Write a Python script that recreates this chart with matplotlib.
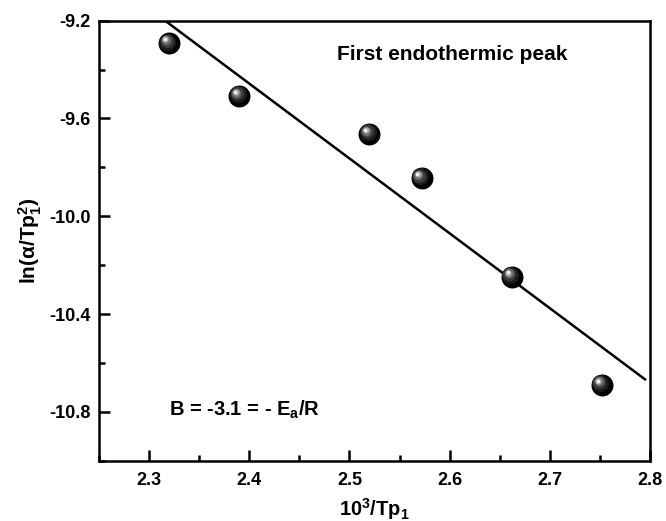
import numpy as np
import matplotlib
matplotlib.use("Agg")
import matplotlib.pyplot as plt
from matplotlib.ticker import MultipleLocator, FormatStrFormatter
from matplotlib.transforms import offset_copy

plt.rcParams['font.family'] = ['Liberation Sans', 'DejaVu Sans']
plt.rcParams['mathtext.fontset'] = 'custom'
plt.rcParams['mathtext.rm'] = 'Liberation Sans:bold'
plt.rcParams['mathtext.it'] = 'Liberation Sans:bold'
plt.rcParams['mathtext.bf'] = 'Liberation Sans:bold'

# data
inv_tp = [2.32, 2.39, 2.52, 2.572, 2.662, 2.752]
ln_ratio = [-9.292, -9.508, -9.663, -9.844, -10.247, -10.689]
fit_range = [2.318, 2.795]
x_ticks = [2.3, 2.4, 2.5, 2.6, 2.7, 2.8]
y_ticks = [-10.8, -10.4, -10.0, -9.6, -9.2]

fig = plt.figure(figsize=(6.66, 5.21), dpi=100)
ax = fig.add_axes([99/666, 1-460.7/521, (650-99)/666, (460.7-20.7)/521])

# linear fit
coef = np.polyfit(inv_tp, ln_ratio, 1)
xf = np.array(fit_range)
ax.plot(xf, np.polyval(coef, xf), color='black', lw=1.8, zorder=2)

# sphere-like markers
ax.scatter(inv_tp, ln_ratio, s=250, color='black', zorder=3, linewidths=0)
layers = [(150, '#1c1c1c', -1.2, 1.2), (90, '#3c3c3c', -1.8, 1.8), (45, '#6c6c6c', -2.3, 2.3),
          (20, '#a8a8a8', -2.7, 2.7), (7, '#f0f0f0', -3.0, 3.0)]
for s, c, dx, dy in layers:
    tr = offset_copy(ax.transData, fig=fig, x=dx, y=dy, units='points')
    ax.scatter(inv_tp, ln_ratio, s=s, color=c, zorder=4, linewidths=0, transform=tr)

ax.set_xlim(2.25, 2.8)
ax.set_ylim(-11.0, -9.2)
ax.set_xticks(x_ticks)
ax.set_yticks(y_ticks)
ax.xaxis.set_minor_locator(MultipleLocator(0.05))
ax.yaxis.set_minor_locator(MultipleLocator(0.2))
ax.xaxis.set_major_formatter(FormatStrFormatter('%.1f'))
ax.yaxis.set_major_formatter(FormatStrFormatter('%.1f'))
ax.tick_params(which='major', direction='in', length=8, width=1.8, labelsize=13)
ax.tick_params(axis='x', which='major', pad=8)
ax.tick_params(axis='y', which='major', pad=6)
ax.tick_params(which='minor', direction='in', length=4, width=1.8)
ax.tick_params(top=False, right=False, which='both')
for lab in ax.get_xticklabels() + ax.get_yticklabels():
    lab.set_fontweight('bold')
for sp in ax.spines.values():
    sp.set_linewidth(1.8)

ax.set_xlabel(r'10$^3$/Tp$_1$', fontsize=14.5, fontweight='bold', labelpad=5)
ax.set_ylabel(r'ln($\alpha$/Tp$_1^2$)', fontsize=15, fontweight='bold', labelpad=4)

ax.text(2.603, -9.34, 'First endothermic peak', fontsize=15, fontweight='bold',
        ha='center', va='center')
ax.text(2.32, -10.79, r'B = -3.1 = - E$_a$/R', fontsize=14.5, fontweight='bold',
        ha='left', va='center')

fig.savefig('out.png', dpi=100)
